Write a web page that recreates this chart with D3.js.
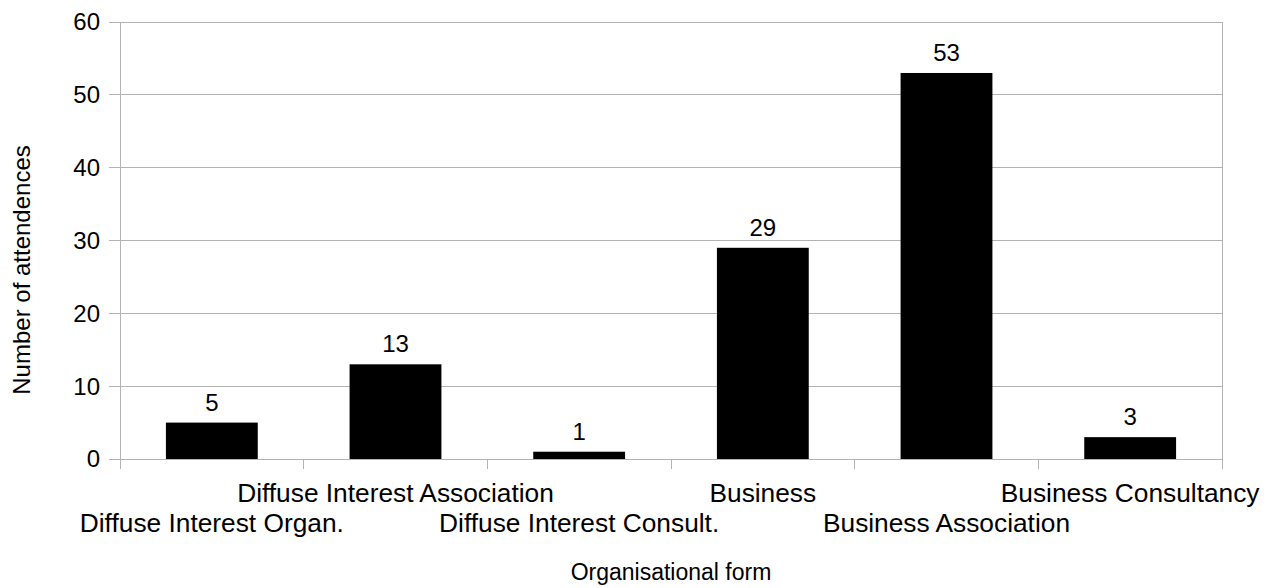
<!DOCTYPE html>
<html><head><meta charset="utf-8">
<script src="https://cdn.jsdelivr.net/npm/d3@7"></script>
<style>body{margin:0;background:#fff;} text{font-family:"Liberation Sans",Arial,sans-serif;fill:#000;}</style>
</head><body>
<svg id="c" width="1274" height="588"></svg>
<script>
const categories = ["Diffuse Interest Organ.","Diffuse Interest Association","Diffuse Interest Consult.","Business","Business Association","Business Consultancy"];
const values = [5,13,1,29,53,3];
const yTicks = [0,10,20,30,40,50,60];
const xTitle = "Organisational form";
const yTitle = "Number of attendences";

const svg = d3.select("#c");
const L=120,R=1222,T=22,B=459;
const x = d3.scaleBand().domain(categories).range([L,R]).paddingInner(0).paddingOuter(0);
const y = d3.scaleLinear().domain([0,60]).range([B,T]);
const grid="#b3b3b3";

// gridlines + y ticks
svg.append("g").selectAll("line").data(yTicks).join("line")
  .attr("x1",L-11).attr("x2",R).attr("y1",d=>y(d)).attr("y2",d=>y(d))
  .attr("stroke",grid).attr("stroke-width",1).attr("shape-rendering","crispEdges");
svg.append("g").selectAll("text").data(yTicks).join("text")
  .attr("x",L-20).attr("y",d=>y(d)).attr("dy","0.35em").attr("text-anchor","end")
  .attr("font-size",24).text(d=>d);

// vertical axis lines and category boundary ticks
const bounds = categories.map(c=>x(c)).concat([R]);
svg.append("g").selectAll("line").data(bounds).join("line")
  .attr("x1",d=>d).attr("x2",d=>d).attr("y1",B).attr("y2",B+10)
  .attr("stroke",grid).attr("shape-rendering","crispEdges");
svg.append("line").attr("x1",L).attr("x2",L).attr("y1",T).attr("y2",B+10).attr("stroke",grid).attr("shape-rendering","crispEdges");
svg.append("line").attr("x1",R).attr("x2",R).attr("y1",T).attr("y2",B+10).attr("stroke",grid).attr("shape-rendering","crispEdges");

// bars
const bw = x.bandwidth()/2;
svg.append("g").selectAll("rect").data(values).join("rect")
  .attr("x",(d,i)=>x(categories[i])+x.bandwidth()/2-bw/2).attr("width",bw)
  .attr("y",d=>y(d)).attr("height",d=>B-y(d)).attr("fill","#000");

// value labels
svg.append("g").selectAll("text").data(values).join("text")
  .attr("x",(d,i)=>x(categories[i])+x.bandwidth()/2).attr("y",d=>y(d)-12)
  .attr("text-anchor","middle").attr("font-size",24).text(d=>d);

// category labels (staggered)
svg.append("g").selectAll("text").data(categories).join("text")
  .attr("x",d=>x(d)+x.bandwidth()/2).attr("y",(d,i)=> i%2===1 ? 502 : 532)
  .attr("text-anchor","middle").attr("font-size",26.3).text(d=>d);

// axis titles
svg.append("text").attr("x",(L+R)/2).attr("y",580).attr("text-anchor","middle").attr("font-size",23).text(xTitle);
svg.append("text").attr("transform","translate(30,270) rotate(-90)").attr("text-anchor","middle").attr("font-size",24).text(yTitle);
</script>
</body></html>
